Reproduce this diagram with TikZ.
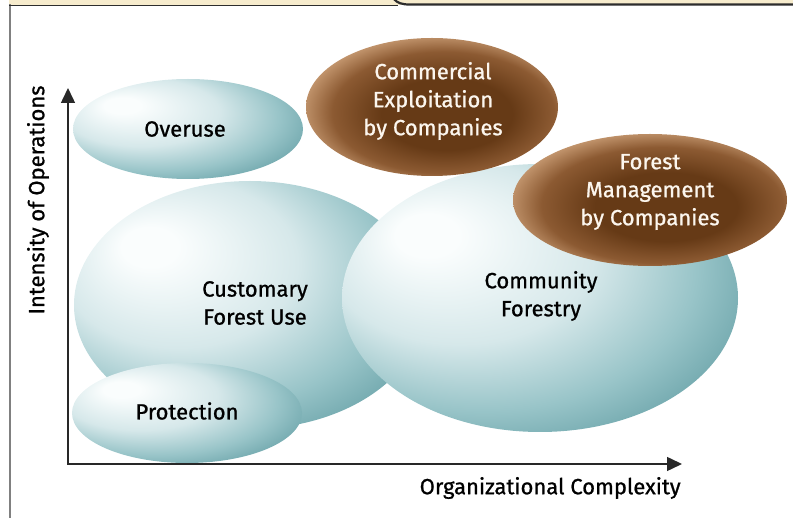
\documentclass[tikz,border=0pt]{standalone}
\usepackage{fontspec}
\setmainfont{Fira Sans}
\newfontfamily\labelfont{Fira Sans}[FakeBold=0.9]
\usetikzlibrary{shapes.geometric,arrows.meta}

\definecolor{cream}{RGB}{247,236,205}
\definecolor{framegray}{RGB}{128,128,128}
\definecolor{framedark}{RGB}{45,45,45}
\definecolor{axisgray}{RGB}{40,40,40}
\definecolor{tealhi}{RGB}{250,253,253}
\definecolor{teallight}{RGB}{214,232,234}
\definecolor{tealmid}{RGB}{152,196,200}
\definecolor{tealdark}{RGB}{102,160,166}
\definecolor{browndark}{RGB}{102,58,22}
\definecolor{brownmid}{RGB}{140,90,50}
\definecolor{brownlight}{RGB}{208,164,124}
\definecolor{brownedge}{RGB}{236,206,176}
\definecolor{paletext}{RGB}{252,246,238}

\pgfdeclareradialshading{tealball}{\pgfpoint{-15.5bp}{12.7bp}}{color(0bp)=(tealhi); color(4bp)=(tealhi); color(17bp)=(teallight); color(27bp)=(tealmid); color(35bp)=(tealdark); color(50bp)=(tealdark)}
\pgfdeclareradialshading{brownball}{\pgfpoint{4bp}{-3.5bp}}{color(0bp)=(browndark); color(13bp)=(browndark); color(22bp)=(brownmid); color(29bp)=(brownlight); color(34bp)=(brownedge); color(50bp)=(brownedge)}

\tikzset{every picture/.style={line width=0.75pt}}
\tikzset{
  blob/.style={ellipse, inner sep=0pt, draw=none},
  tealblob/.style={blob, shading=tealball},
  brownblob/.style={blob, shading=brownball},
  blobtext/.style={align=center, inner sep=0pt, font=\labelfont\fontsize{22}{28}\selectfont},
  darktext/.style={blobtext, text=black},
  lighttext/.style={blobtext, text=paletext},
  axislabel/.style={inner sep=0pt, font=\labelfont\fontsize{22}{24}\selectfont},
  axisline/.style={draw=axisgray, line width=1.5pt, {Triangle[length=15pt,width=14pt]}-{Triangle[length=15pt,width=14pt]}},
}

\begin{document}
\begin{tikzpicture}[x=1pt,y=1pt,yscale=-1,xscale=1]
\useasboundingbox (0,0) rectangle (793,518);

%Frame: top band and left rule
\fill [cream] (9,0) rectangle (793,5);
\draw [framegray, line width=2pt] (9.5,4) -- (9.5,518);
\draw [framedark, line width=1pt] (9,5.2) -- (398,5.2);
\draw [framedark, line width=2.2pt] (394,-1) .. controls (397,3) and (402,4.6) .. (411,4.6) -- (793,4.6);

%Shape: Ellipses (back to front)
\node [tealblob, minimum width=352, minimum height=248] (custom) at (250,305) {};
\node [tealblob, minimum width=396, minimum height=268] (community) at (540,298) {};
\node [tealblob, minimum width=230, minimum height=100] (protect) at (187,413) {};
\node [tealblob, minimum width=230, minimum height=100] (overuse) at (188,129) {};
\node [brownblob, minimum width=252, minimum height=138] (commercial) at (432,107) {};
\node [brownblob, minimum width=274, minimum height=132] (management) at (650,200) {};

% Text Node
\node [darktext] (overusetxt) at (185,129) {Overuse};
% Text Node
\node [darktext] (customtxt) at (255,303) {Customary\\Forest Use};
% Text Node
\node [darktext] (protecttxt) at (187,411) {Protection};
% Text Node
\node [darktext] (communitytxt) at (541,296) {Community\\Forestry};
% Text Node
\node [lighttext] (commercialtxt) at (433,101) {Commercial\\Exploitation\\by Companies};
% Text Node
\node [lighttext] (managementtxt) at (650,192) {Forest\\Management\\by Companies};

%Axes
\coordinate (ytip) at (68,88);
\coordinate (origin) at (68,464);
\coordinate (xtip) at (682,464);
\draw [axisline] (ytip) -- (origin) -- (xtip);

% Text Node
\node [axislabel, rotate=90] (ylabel) at (38,200) {Intensity of Operations};
% Text Node
\node [axislabel, anchor=east] (xlabel) at (681,488) {Organizational Complexity};

\end{tikzpicture}
\end{document}
